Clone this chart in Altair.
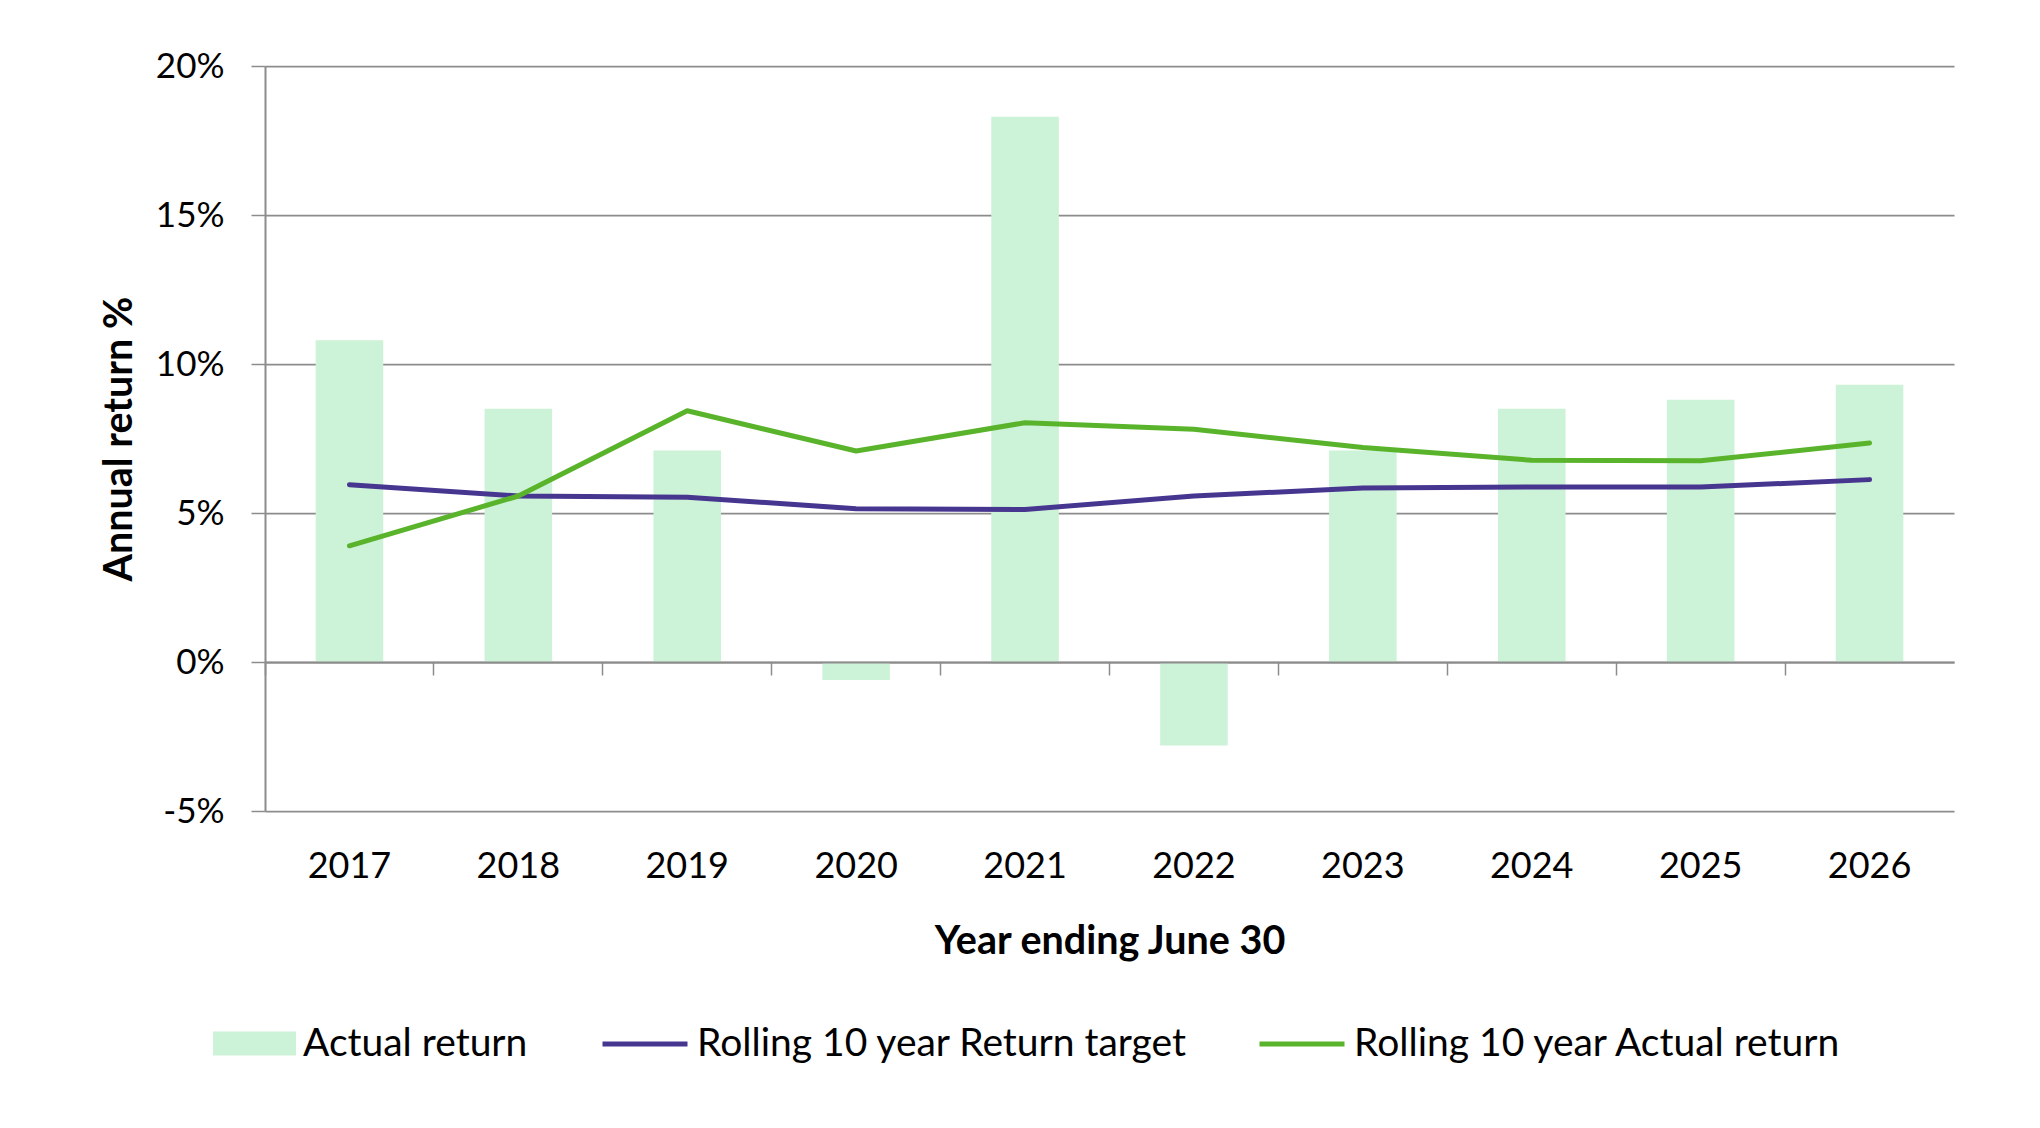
import altair as alt
import pandas as pd

# ---- data ----
years = ["2017", "2018", "2019", "2020", "2021", "2022", "2023", "2024", "2025", "2026"]
actual_return = [10.8, 8.5, 7.1, -0.6, 18.3, -2.8, 7.1, 8.5, 8.8, 9.3]
rolling_target = [5.95, 5.57, 5.53, 5.14, 5.12, 5.57, 5.84, 5.87, 5.87, 6.12]
rolling_actual = [3.9, 5.57, 8.43, 7.08, 8.03, 7.81, 7.2, 6.77, 6.75, 7.35]
y_ticks = [-5, 0, 5, 10, 15, 20]

BAR_NAME = "Actual return"
TARGET_NAME = "Rolling 10 year Return target"
ROLL_NAME = "Rolling 10 year Actual return"

bar_df = pd.DataFrame({"year": years, "value": actual_return, "series": BAR_NAME})
target_df = pd.DataFrame({"year": years, "value": rolling_target, "series": TARGET_NAME})
roll_df = pd.DataFrame({"year": years, "value": rolling_actual, "series": ROLL_NAME})

FONT = "Lato"
GRID = "#8c8c8c"
MINT = "#CCF2D8"
PURPLE = "#47368F"
GREEN = "#5AB42B"
LINE_W = 5

x_scale = alt.Scale(paddingInner=0, paddingOuter=0)
y_scale = alt.Scale(domain=[-5, 20], nice=False, zero=False)

y_axis = alt.Axis(
    values=y_ticks,
    labelExpr="datum.value + '%'",
    title="Annual return %",
    labelFontSize=35,
    labelPadding=27,
    tickSize=14,
    tickWidth=1.5,
    domainWidth=2,
    gridWidth=1.75,
    grid=True,
    titleFontSize=39.5,
    titleFontWeight="bold",
    titleAngle=270,
    titleX=-134,
    titleY=372.6,
    titleAlign="center",
    titleBaseline="alphabetic",
)

bar_legend = alt.Legend(
    orient="none",
    legendX=-52,
    legendY=936,
    title=None,
    symbolType="M-1,-0.29H1V0.29H-1Z",
    symbolSize=6889,
    symbolStrokeWidth=0,
    labelFontSize=39,
    labelOffset=7,
    padding=0,
    labelLimit=0,
)

line_legend = alt.Legend(
    orient="none",
    legendX=335,
    legendY=933,
    direction="horizontal",
    title=None,
    symbolType="stroke",
    symbolSize=7225,
    symbolStrokeWidth=LINE_W,
    labelFontSize=39,
    labelOffset=7,
    columnPadding=61,
    padding=0,
    labelLimit=0,
)

bars = alt.Chart(bar_df).mark_bar(width=alt.RelativeBandSize(0.4)).encode(
    x=alt.X(
        "year:O",
        sort=years,
        scale=x_scale,
        axis=alt.Axis(
            title="Year ending June 30",
            labelAngle=0,
            domain=False,
            ticks=False,
            tickSize=0,
            grid=False,
            labelPadding=66,
            labelBaseline="alphabetic",
            labelFontSize=36,
            titleFontSize=39.5,
            titleFontWeight="bold",
            titleY=142,
            titleBaseline="alphabetic",
        ),
    ),
    y=alt.Y("value:Q", scale=y_scale, axis=y_axis),
    fill=alt.Fill("series:N", scale=alt.Scale(domain=[BAR_NAME], range=[MINT]), legend=bar_legend),
)

stroke_scale = alt.Scale(domain=[TARGET_NAME, ROLL_NAME], range=[PURPLE, GREEN])

target_line = alt.Chart(target_df).mark_line(strokeWidth=LINE_W, strokeCap="round", strokeJoin="round").encode(
    x=alt.X(
        "year:O",
        sort=years,
        scale=x_scale,
        axis=alt.Axis(
            orient="bottom",
            offset=-149,
            labels=False,
            title=None,
            grid=False,
            domain=True,
            domainWidth=2,
            ticks=True,
            tickSize=13,
            tickWidth=1.5,
            bandPosition=0,
            zindex=1,
        ),
    ),
    y=alt.Y("value:Q", scale=y_scale, axis=y_axis),
    stroke=alt.Stroke("series:N", scale=stroke_scale, legend=line_legend),
)

roll_line = alt.Chart(roll_df).mark_line(strokeWidth=LINE_W, strokeCap="round", strokeJoin="round").encode(
    x=alt.X("year:O", sort=years, scale=x_scale, axis=None),
    y=alt.Y("value:Q", scale=y_scale, axis=y_axis),
    stroke=alt.Stroke("series:N", scale=stroke_scale, legend=line_legend),
)

chart = (
    alt.layer(bars, target_line, roll_line)
    .resolve_scale(x="shared")
    .resolve_axis(x="independent")
    .properties(
        width=1689,
        height=745,
        padding={"left": 257, "top": 58, "right": 60, "bottom": 280},
        autosize=alt.AutoSizeParams(type="none"),
        background="white",
    )
    .configure_view(stroke=None)
    .configure_axis(
        labelFont=FONT,
        titleFont=FONT,
        labelColor="black",
        titleColor="black",
        gridColor=GRID,
        domainColor=GRID,
        tickColor=GRID,
    )
    .configure_legend(labelFont=FONT, labelColor="black")
)

chart.save("out.html", embed_options={"renderer": "svg", "actions": False})
